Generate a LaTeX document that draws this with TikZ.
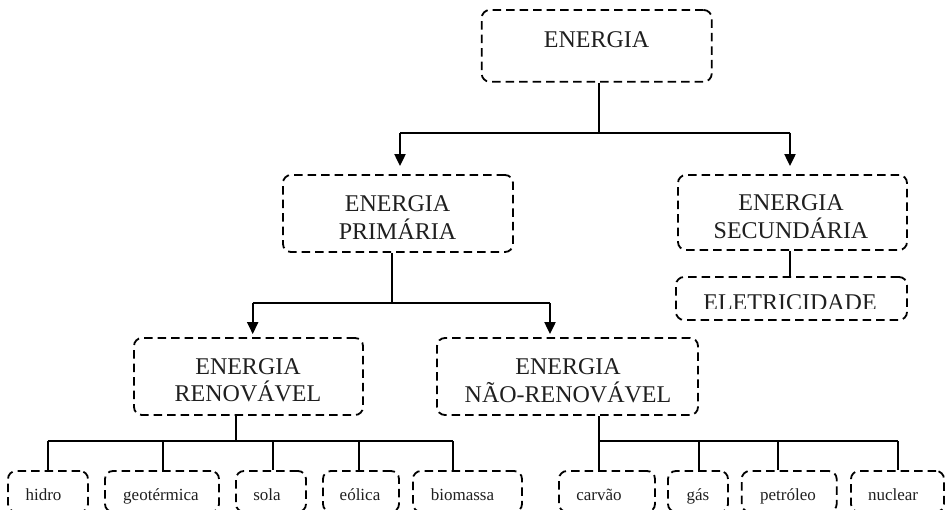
\documentclass[tikz,border=0pt]{standalone}
\usepackage{fontspec}
\setmainfont{Liberation Serif}
\usetikzlibrary{arrows.meta,calc}
\begin{document}
\begin{tikzpicture}[x=1pt,y=-1pt,
  box/.style={draw=black, line width=1.8pt, dash pattern=on 8.5pt off 5pt,
    rounded corners=8pt, inner sep=0pt},
  big/.style={font=\fontsize{24}{27.4}\selectfont, align=center, anchor=base, inner sep=0pt, text=black!88},
  small/.style={font=\fontsize{17}{20}\selectfont, anchor=base, inner sep=0pt, text=black!88},
  conn/.style={draw=black, line width=2pt},
  arr/.style={conn, -{Triangle[width=11pt,length=12pt]}}]
\clip (0,0) rectangle (945,509);
% boxes
\node[box, minimum width=230pt, minimum height=71.7pt] (energia) at (596.7,45.85) {};
\node[box, minimum width=230pt, minimum height=77pt] (prim) at (398,213.5) {};
\node[box, minimum width=229pt, minimum height=75pt] (sec) at (792.5,212.5) {};
\node[box, minimum width=231pt, minimum height=43pt] (elet) at (791.5,298.5) {};
\node[box, minimum width=229pt, minimum height=77pt] (renov) at (248.5,376.5) {};
\node[box, minimum width=261pt, minimum height=77pt] (naorenov) at (567.5,376.5) {};
\node[box, minimum width=80pt, minimum height=41pt] (hidro) at (48,491.5) {};
\node[box, minimum width=114pt, minimum height=41pt] (geot) at (162,491.5) {};
\node[box, minimum width=70pt, minimum height=41pt] (sola) at (271,491.5) {};
\node[box, minimum width=76pt, minimum height=41pt] (eolica) at (361,491.5) {};
\node[box, minimum width=109pt, minimum height=41pt] (biomassa) at (467.5,491.5) {};
\node[box, minimum width=96pt, minimum height=41pt] (carvao) at (607,491.5) {};
\node[box, minimum width=60pt, minimum height=41pt] (gas) at (698,491.5) {};
\node[box, minimum width=95pt, minimum height=41pt] (petroleo) at (789.2,491.5) {};
\node[box, minimum width=93pt, minimum height=41pt] (nuclear) at (897.5,491.5) {};
% texts (base = baseline of last line)
\node[big] (t-energia) at (596.5,47) {ENERGIA};
\node[big] (t-prim) at (397.5,239) {ENERGIA\\PRIMÁRIA};
\node[big] (t-sec) at (791,238) {ENERGIA\\SECUNDÁRIA};
\node[big] (t-renov) at (248,401.5) {ENERGIA\\RENOVÁVEL};
\node[big] (t-naorenov) at (568,402) {ENERGIA\\NÃO-RENOVÁVEL};
\begin{scope}
  \clip (660,270) rectangle (930,308);
  \node[big] (t-elet) at (790,310.5) {ELETRICIDADE};
\end{scope}
\node[small] (t-hidro) at (43.5,500) {hidro};
\node[small] (t-geot) at (161,500) {geotérmica};
\node[small] (t-sola) at (267,500) {sola};
\node[small] (t-eolica) at (360,500) {eólica};
\node[small] (t-biomassa) at (462.5,500) {biomassa};
\node[small] (t-carvao) at (599,500) {carvão};
\node[small] (t-gas) at (698,500) {gás};
\node[small] (t-petroleo) at (788,500) {petróleo};
\node[small] (t-nuclear) at (893,500) {nuclear};
% connectors: level 1
\coordinate (j1) at (598.7,132.7);
\coordinate (a1) at (400,132.7);
\coordinate (a2) at (790,132.7);
\draw[conn] (energia.south -| j1) -- (j1);
\draw[conn] (a1) -- (a2);
\draw[arr] (a1) -- ([yshift=8pt]a1 |- prim.north);
\draw[arr] (a2) -- ([yshift=8pt]a2 |- sec.north);
\draw[conn] (sec.south -| 790,0) -- (elet.north -| 790,0);
% level 2
\coordinate (j2) at (391.7,303);
\coordinate (b1) at (252.7,303);
\coordinate (b2) at (550,303);
\draw[conn] (prim.south -| j2) -- (j2);
\draw[conn] (b1) -- (b2);
\draw[arr] (b1) -- ([yshift=3pt]b1 |- renov.north);
\draw[arr] (b2) -- ([yshift=3pt]b2 |- naorenov.north);
% level 3 renewable
\coordinate (jr) at (236,441);
\coordinate (r1) at (47.7,441);
\coordinate (r2) at (163.3,441);
\coordinate (r3) at (273.3,441);
\coordinate (r4) at (359.3,441);
\coordinate (r5) at (452.7,441);
\draw[conn] (renov.south -| jr) -- (jr);
\draw[conn] (r1) -- (r5);
\draw[conn] (r1) -- (r1 |- hidro.north);
\draw[conn] (r2) -- (r2 |- geot.north);
\draw[conn] (r3) -- (r3 |- sola.north);
\draw[conn] (r4) -- (r4 |- eolica.north);
\draw[conn] (r5) -- (r5 |- biomassa.north);
% level 3 non-renewable
\coordinate (n1) at (599,441);
\coordinate (n2) at (699,441);
\coordinate (n3) at (777.7,441);
\coordinate (n4) at (897.7,441);
\draw[conn] (naorenov.south -| n1) -- (n1);
\draw[conn] (n1) -- (n4);
\draw[conn] (n1) -- (n1 |- carvao.north);
\draw[conn] (n2) -- (n2 |- gas.north);
\draw[conn] (n3) -- (n3 |- petroleo.north);
\draw[conn] (n4) -- (n4 |- nuclear.north);
\end{tikzpicture}
\end{document}
